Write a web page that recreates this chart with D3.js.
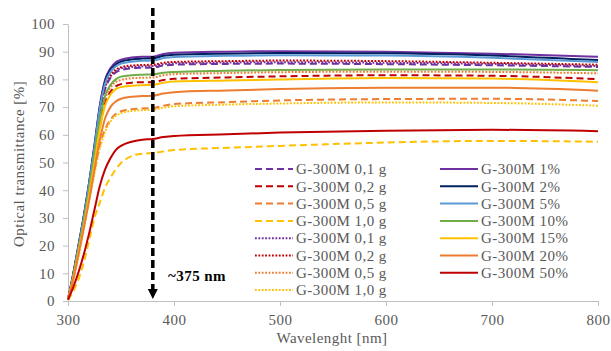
<!DOCTYPE html>
<html>
<head>
<meta charset="utf-8">
<script src="https://cdn.jsdelivr.net/npm/d3@7"></script>
<style>
body { margin: 0; background: #fff; }
text { font-family: "Liberation Serif", "Times New Roman", serif; letter-spacing: 0.45px; }
</style>
</head>
<body>
<script>
// wavelength grid [nm]
var wavelengths = [300, 305, 310, 315, 320, 325, 330, 335, 340, 345, 350, 360, 370, 380, 390, 400, 450, 500, 600, 700, 800];

// transmittance [%]
var g01gDash = [0.5, 9.5, 19.5, 30, 41.5, 54.5, 67.5, 76.5, 80.5, 82.5, 83.4, 84, 84.2, 84.3, 85.0, 85.3, 85.6, 85.7, 85.5, 85.1, 84.5];
var g02gDash = [0.5, 8.5, 18, 28, 39, 51, 63, 71.5, 75.5, 77.5, 78.3, 78.8, 79, 79, 79.8, 80.2, 80.7, 81.1, 81.5, 81.3, 80.1];
var g05gDash = [0.5, 8, 17, 27, 37, 47, 56, 62, 65.5, 67.5, 68.5, 69.2, 69.5, 69.6, 70.5, 71.1, 71.8, 72.4, 72.9, 73.0, 72.2];
var g10gDash = [0.3, 3.5, 8, 14, 22, 30, 35.5, 41, 44.5, 47.5, 49.8, 52.3, 53.2, 53.4, 54.0, 54.5, 55.3, 56.0, 57.2, 57.8, 57.5];
var g01gDot = [0.5, 9.5, 19.5, 30, 42, 55, 68, 77, 81, 83, 84, 84.5, 84.7, 84.8, 85.5, 85.8, 86.1, 86.2, 86.0, 85.6, 84.8];
var g02gDot = [0.5, 9.5, 20, 30.5, 42, 55, 68.5, 77.5, 81.5, 83.5, 84.4, 85, 85.2, 85.3, 86.0, 86.3, 86.6, 86.8, 86.6, 86.0, 85.3];
var g05gDot = [0.5, 9, 18.5, 28.5, 40, 52, 64.5, 73, 77, 79, 79.8, 80.4, 80.6, 80.7, 81.5, 81.9, 82.3, 82.6, 82.8, 82.7, 82.2];
var g10gDot = [0.4, 7.5, 16, 26, 36, 46, 55, 61, 64.8, 66.8, 67.8, 68.6, 68.9, 69, 69.8, 70.3, 70.9, 71.3, 71.7, 71.5, 70.5];
var g1pct = [0.5, 10, 20.5, 31, 43, 56.5, 70.5, 80, 84, 86.2, 87.1, 87.9, 88.2, 88.2, 89.2, 89.6, 90.0, 90.2, 90.0, 89.3, 88.2];
var g2pct = [0.5, 9.8, 20, 30.8, 42.8, 56, 70, 79.2, 83.4, 85.4, 86.4, 87.2, 87.5, 87.6, 88.5, 88.9, 89.3, 89.5, 89.4, 88.6, 87.0];
var g5pct = [0.5, 9.5, 20, 30.5, 42.5, 55.5, 69.5, 78.5, 82.7, 84.7, 85.7, 86.4, 86.7, 86.8, 87.7, 88.1, 88.5, 88.7, 88.6, 87.8, 86.3];
var g10pct = [0.5, 9, 19, 29, 40.5, 53, 65.5, 74, 78, 80, 81, 81.5, 81.7, 81.8, 82.4, 82.7, 83.1, 83.4, 83.6, 83.6, 83.3];
var g15pct = [0.5, 8.5, 18, 27.5, 38.5, 50, 62, 70.5, 74.5, 76.5, 77.2, 77.7, 77.9, 78, 78.8, 79.2, 79.6, 80.0, 80.5, 80.3, 79.0];
var g20pct = [0.5, 8, 17, 26.5, 36.5, 47.5, 58, 66, 70, 72, 73, 73.7, 74, 74.1, 74.9, 75.4, 76.0, 76.5, 77.0, 77.0, 75.9];
var g50pct = [0.5, 5, 10.5, 17, 24.5, 33, 41.5, 47.5, 51.5, 54.5, 56, 57.5, 58.2, 58.5, 59.2, 59.6, 60.2, 60.8, 61.5, 61.8, 61.3];

var seriesNames = ["G-300M 0,1 g", "G-300M 0,2 g", "G-300M 0,5 g", "G-300M 1,0 g",
    "G-300M 0,1 g", "G-300M 0,2 g", "G-300M 0,5 g", "G-300M 1,0 g",
    "G-300M 1%", "G-300M 2%", "G-300M 5%", "G-300M 10%", "G-300M 15%", "G-300M 20%", "G-300M 50%"];
var seriesValues = [g01gDash, g02gDash, g05gDash, g10gDash, g01gDot, g02gDot, g05gDot, g10gDot,
    g1pct, g2pct, g5pct, g10pct, g15pct, g20pct, g50pct];

var xTicks = [300, 400, 500, 600, 700, 800];
var yTicks = [0, 10, 20, 30, 40, 50, 60, 70, 80, 90, 100];
var markerWavelength = 380;
var markerLabel = "~375 nm";

// styles
var colors = ["#7030A0", "#C00000", "#ED7D31", "#FFC000", "#7030A0", "#C00000", "#ED7D31", "#FFC000",
    "#7030A0", "#002060", "#5B9BD5", "#70AD47", "#FFC000", "#ED7D31", "#C00000"];
var dashes = ["7,4", "7,4", "7,4", "7,4", "1.8,1.6", "1.8,1.6", "1.8,1.6", "1.8,1.6",
    null, null, null, null, null, null, null];

var width = 611, height = 351;
var gray = "#595959", axisGray = "#BFBFBF";

var svg = d3.select("body").append("svg")
    .attr("width", width)
    .attr("height", height);

var x = d3.scaleLinear().domain([300, 800]).range([68, 598]);
var y = d3.scaleLinear().domain([0, 100]).range([301, 24]);

// axes
var xAxis = svg.append("g")
    .attr("transform", "translate(0," + y(0) + ")")
    .call(d3.axisBottom(x).tickValues(xTicks).tickSize(5).tickSizeOuter(0).tickPadding(8));
var yAxis = svg.append("g")
    .attr("transform", "translate(" + x(300) + ",0)")
    .call(d3.axisLeft(y).tickValues(yTicks).tickSize(5).tickSizeOuter(0).tickPadding(8));

[xAxis, yAxis].forEach(function (a) {
    a.select(".domain").attr("stroke", axisGray);
    a.selectAll(".tick line").attr("stroke", axisGray);
    a.selectAll(".tick text")
        .attr("fill", gray)
        .style("font-size", "15px")
        .style("font-family", "'Liberation Serif', serif");
});

// series
var line = d3.line()
    .x(function (d, i) { return x(wavelengths[i]); })
    .y(function (d) { return y(d); })
    .curve(d3.curveMonotoneX);

svg.append("g")
    .selectAll("path")
    .data(seriesValues)
    .enter().append("path")
    .attr("d", line)
    .attr("fill", "none")
    .attr("stroke", function (d, i) { return colors[i]; })
    .attr("stroke-width", 2)
    .attr("stroke-dasharray", function (d, i) { return dashes[i]; });

// marker arrow at ~375 nm
var mx = x(markerWavelength);
svg.append("line")
    .attr("x1", mx).attr("x2", mx)
    .attr("y1", 8).attr("y2", 290)
    .attr("stroke", "black")
    .attr("stroke-width", 3.5)
    .attr("stroke-dasharray", "8,4");
svg.append("path")
    .attr("d", "M" + (mx - 5) + " 289 L" + (mx + 5) + " 289 L" + mx + " 299 Z")
    .attr("fill", "black");
svg.append("text")
    .attr("x", 168)
    .attr("y", 281)
    .attr("font-weight", "bold")
    .attr("font-size", "15px")
    .attr("fill", "black")
    .text(markerLabel);

// legend
var rowH = 17.3;
var legend = svg.append("g")
    .selectAll("g")
    .data(seriesNames)
    .enter().append("g")
    .attr("transform", function (d, i) {
        var col = i < 8 ? 0 : 1;
        var row = i < 8 ? i : i - 8;
        return "translate(" + (col ? 440 : 255) + "," + (169 + row * rowH) + ")";
    });
legend.append("line")
    .attr("x1", 0).attr("x2", 38)
    .attr("stroke", function (d, i) { return colors[i]; })
    .attr("stroke-width", 2)
    .attr("stroke-dasharray", function (d, i) { return dashes[i]; });
legend.append("text")
    .attr("x", 41)
    .attr("dy", "0.35em")
    .attr("fill", gray)
    .attr("font-size", "15px")
    .text(function (d) { return d; });

// axis titles
svg.append("text")
    .attr("x", 332)
    .attr("y", 343)
    .attr("text-anchor", "middle")
    .attr("fill", gray)
    .attr("font-size", "15px")
    .text("Wavelenght [nm]");
svg.append("text")
    .attr("transform", "translate(24,164) rotate(-90)")
    .attr("text-anchor", "middle")
    .attr("fill", gray)
    .attr("font-size", "15px")
    .text("Optical transmittance [%]");
</script>
</body>
</html>
